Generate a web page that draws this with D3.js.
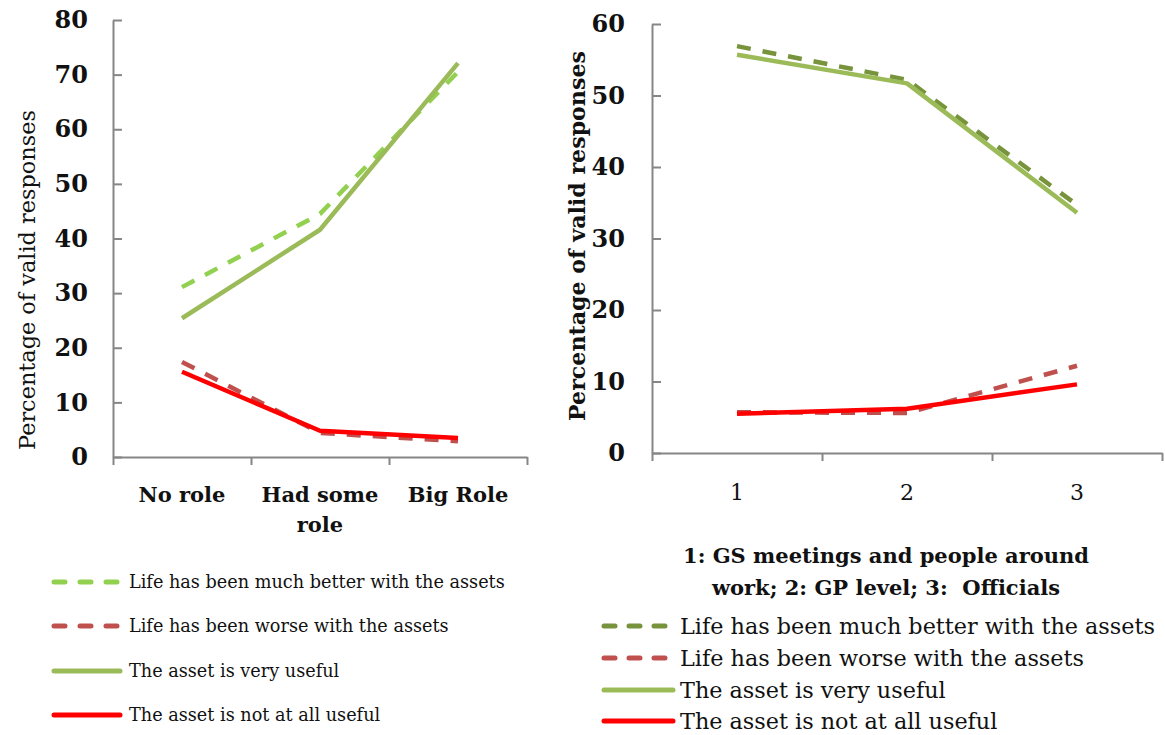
<!DOCTYPE html>
<html><head><meta charset="utf-8">
<script src="https://cdn.jsdelivr.net/npm/d3@7"></script>
<style>body{margin:0;background:#fff}svg{display:block}text{white-space:pre}</style>
</head><body>
<svg id="c" width="1165" height="735"></svg>
<script>
// ---- data ----
const leftCategories = [["No role"], ["Had some", "role"], ["Big Role"]];
const leftYTicks = [0, 10, 20, 30, 40, 50, 60, 70, 80];
const leftMuchBetter = [31.1, 44.5, 70.5];
const leftWorse = [17.4, 4.4, 2.9];
const leftVeryUseful = [25.4, 41.6, 72.1];
const leftNotUseful = [15.6, 4.8, 3.5];

const rightCategories = ["1", "2", "3"];
const rightYTicks = [0, 10, 20, 30, 40, 50, 60];
const rightMuchBetter = [56.9, 52.2, 34.7];
const rightWorse = [5.7, 5.6, 12.2];
const rightVeryUseful = [55.7, 51.7, 33.6];
const rightNotUseful = [5.5, 6.2, 9.6];

const seriesNames = ["Life has been much better with the assets", "Life has been worse with the assets", "The asset is very useful", "The asset is not at all useful"];
const yTitle = "Percentage of valid responses";
const rightXTitle = ["1: GS meetings and people around", "work; 2: GP level; 3:  Officials"];

// ---- drawing ----
const svg = d3.select("#c");
const FONT = "DejaVu Serif, Liberation Serif, serif";
const AXIS = "#868686";

function fit(sel, w) {
  const n = sel.node(); const fs = parseFloat(sel.attr("font-size"));
  const l = n.getComputedTextLength(); sel.attr("font-size", (fs * w / l).toFixed(2));
}

function panel(o) {
  const g = svg.append("g");
  const n = o.cats.length;
  const x = d3.scaleBand().domain(d3.range(n)).range([o.x0, o.x1]);
  const xe = d3.scaleLinear().domain([0, n]).range([o.x0, o.x1]);
  const y = d3.scaleLinear().domain([0, o.ymax]).range([o.y0, o.y1]);
  // y axis
  const ya = g.append("g").attr("transform", `translate(${o.x0},0)`)
    .call(d3.axisLeft(y).tickValues(o.yticks).tickSizeInner(-9).tickSizeOuter(0).tickPadding(o.tpad));
  ya.select(".domain").attr("stroke", AXIS).attr("stroke-width", 2);
  ya.selectAll(".tick line").attr("stroke", AXIS).attr("stroke-width", 2);
  ya.selectAll(".tick text").attr("font-family", FONT).attr("font-weight", "bold")
    .attr("font-size", o.tfs).attr("fill", "#111");
  // x axis
  const xa = g.append("g").attr("transform", `translate(0,${o.y0})`)
    .call(d3.axisBottom(xe).tickValues(d3.range(n + 1)).tickFormat("").tickSizeInner(8).tickSizeOuter(0));
  xa.select(".domain").attr("stroke", AXIS).attr("stroke-width", 2);
  xa.selectAll(".tick line").attr("stroke", AXIS).attr("stroke-width", 2);
  // category labels
  o.cats.forEach((c, i) => {
    const lines = Array.isArray(c) ? c : [c];
    const t = g.append("text").attr("x", x(i) + x.bandwidth() / 2).attr("y", o.catY)
      .attr("text-anchor", "middle").attr("font-family", FONT)
      .attr("font-weight", o.catBold ? "bold" : "normal").attr("font-size", o.cfs).attr("fill", "#111");
    lines.forEach((ln, j) => t.append("tspan").attr("x", x(i) + x.bandwidth() / 2).attr("dy", j ? 30 : 0).text(ln));
  });
  // lines
  const line = d3.line().x((d, i) => x(i) + x.bandwidth() / 2).y(d => y(d));
  o.series.forEach(s => {
    g.append("path").datum(s.values).attr("d", line).attr("fill", "none")
      .attr("stroke", s.color).attr("stroke-width", 4.5)
      .attr("stroke-linejoin", "round")
      .attr("stroke-dasharray", s.dash ? "14,12" : null);
  });
  // y title
  const tt = g.append("text").attr("transform", `translate(${o.titleX},${o.titleY}) rotate(-90)`)
    .attr("text-anchor", "middle").attr("dominant-baseline", "central").attr("font-family", FONT)
    .attr("font-weight", o.titleBold ? "bold" : "normal").attr("font-size", 20).attr("fill", "#111").text(yTitle);
  fit(tt, o.titleW);
  // legend
  o.series.forEach((s, i) => {
    const ly = o.legY[i];
    g.append("line").attr("x1", o.legX0).attr("x2", o.legX1).attr("y1", ly).attr("y2", ly)
      .attr("stroke", s.color).attr("stroke-width", 5).attr("stroke-linecap", "round")
      .attr("stroke-dasharray", s.dash ? o.legDash : null);
    const lt = g.append("text").attr("x", o.legTX).attr("y", ly).attr("dominant-baseline", "central")
      .attr("font-family", FONT).attr("font-size", 16).attr("fill", "#111").text(seriesNames[i]);
    if (i === 0) { fit(lt, o.legW); o.legFS = lt.attr("font-size"); } else lt.attr("font-size", o.legFS);
  });
  return {g, x, y};
}

panel({
  x0: 113, x1: 527, y0: 457, y1: 20, ymax: 80, yticks: leftYTicks, tpad: 25, tfs: 24,
  cats: leftCategories, catY: 502, catBold: true, cfs: 21,
  titleX: 27, titleY: 280, titleW: 340, titleBold: false,
  series: [
    {values: leftMuchBetter, color: "#92D050", dash: true},
    {values: leftWorse, color: "#C0504D", dash: true},
    {values: leftVeryUseful, color: "#9BBB59", dash: false},
    {values: leftNotUseful, color: "#FF0000", dash: false}
  ],
  legY: [582, 626, 671, 715], legX0: 54, legX1: 120, legTX: 129, legW: 376, legDash: "11,15"
});

panel({
  x0: 652, x1: 1162, y0: 453, y1: 24, ymax: 60, yticks: rightYTicks, tpad: 27, tfs: 24,
  cats: rightCategories, catY: 500, catBold: false, cfs: 22,
  titleX: 577, titleY: 236, titleW: 370, titleBold: true,
  series: [
    {values: rightMuchBetter, color: "#77933C", dash: true},
    {values: rightWorse, color: "#C0504D", dash: true},
    {values: rightVeryUseful, color: "#9BBB59", dash: false},
    {values: rightNotUseful, color: "#FF0000", dash: false}
  ],
  legY: [626, 658, 690, 721], legX0: 604, legX1: 673, legTX: 680, legW: 475, legDash: "11,14"
});

// right x title
rightXTitle.forEach((t, i) => {
  svg.append("text").attr("x", 886).attr("y", 563 + i * 32).attr("text-anchor", "middle")
    .attr("font-family", FONT).attr("font-weight", "bold").attr("font-size", 21).attr("fill", "#111")
    .attr("xml:space", "preserve").text(t);
});
</script>
</body></html>
